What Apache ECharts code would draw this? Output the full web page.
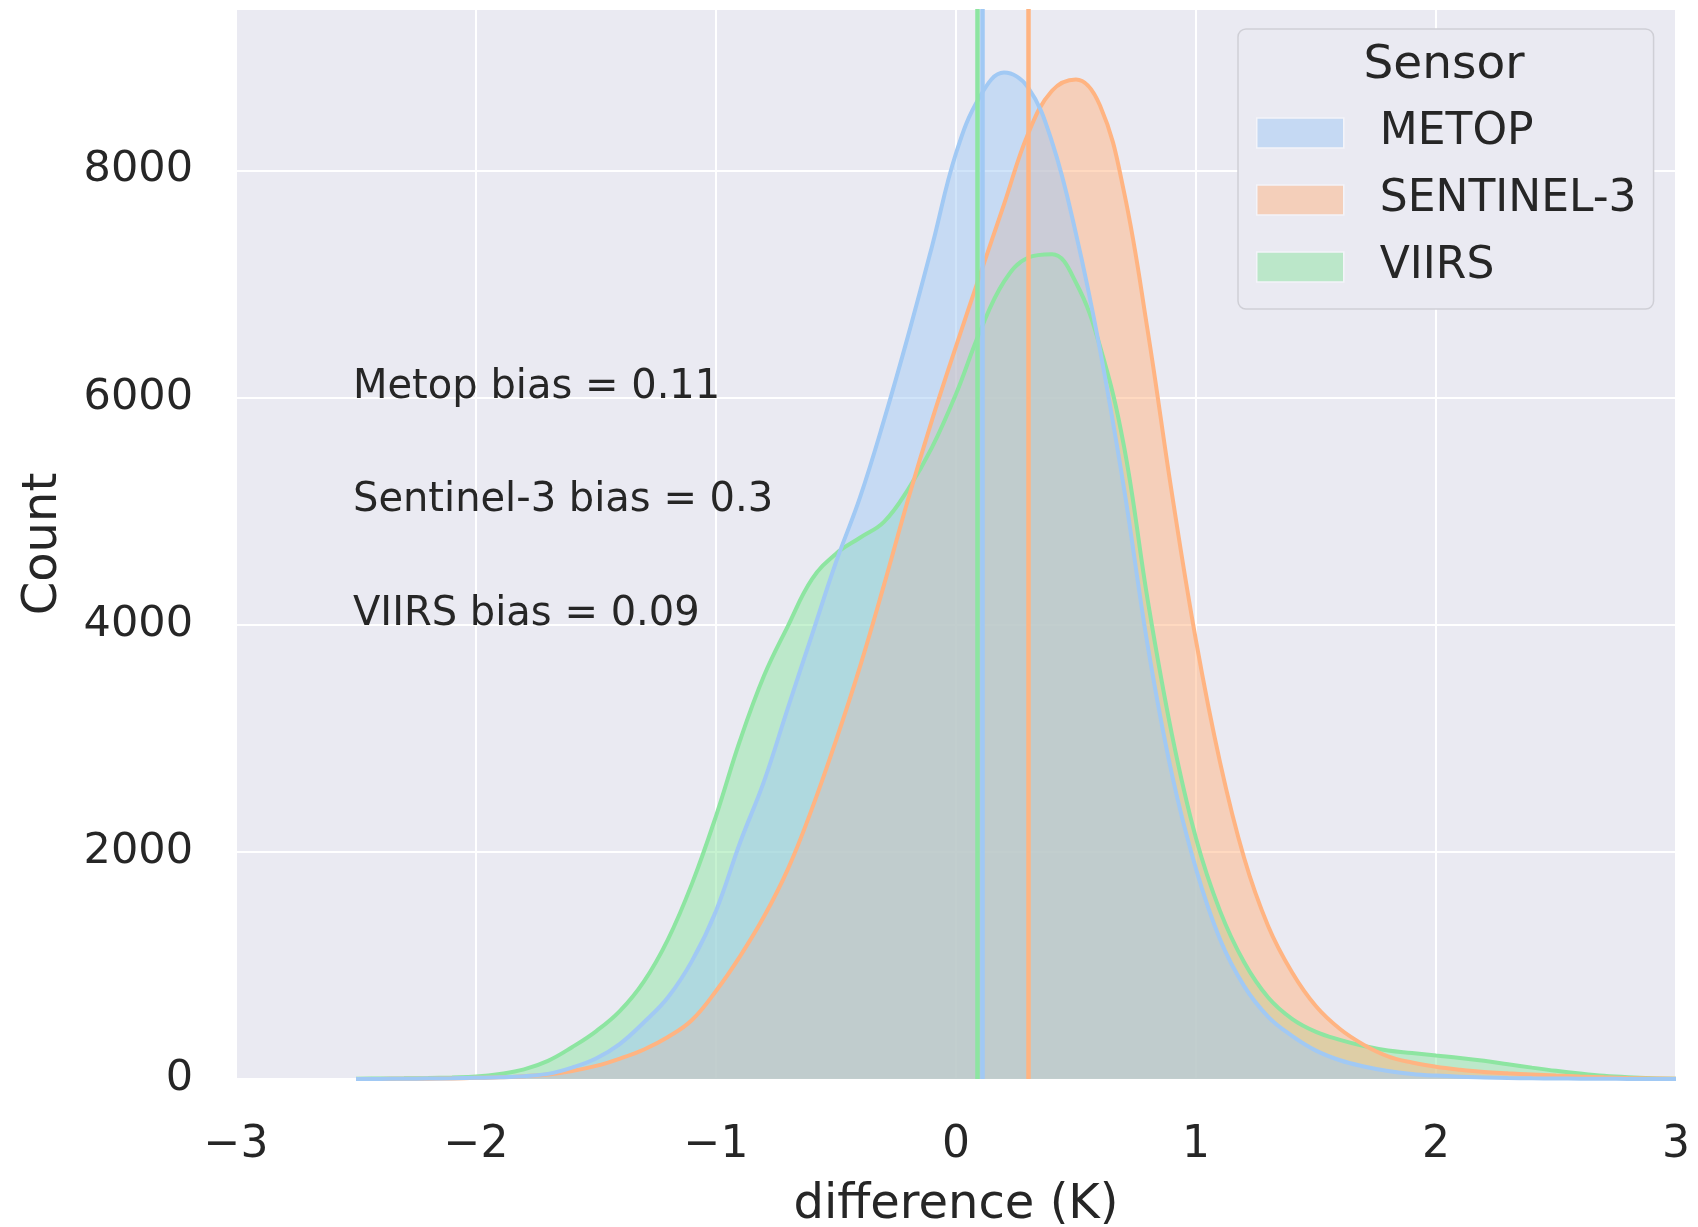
<!DOCTYPE html>
<html>
<head>
<meta charset="utf-8">
<script src="https://cdn.jsdelivr.net/npm/echarts@6/dist/echarts.min.js"></script>
<style>
html,body{margin:0;padding:0;background:#fff;}
#chart{width:1698px;height:1227px;}
</style>
</head>
<body>
<div id="chart"></div>
<script>
// ---- data ----
const xGrid = [-2.5,-2.4,-2.3,-2.2,-2.1,-2.0,-1.9,-1.8,-1.7,-1.6,
               -1.5,-1.4,-1.3,-1.2,-1.1,-1.0,-0.9,-0.8,-0.7,-0.6,
               -0.5,-0.4,-0.3,-0.2,-0.1,0.0,0.1,0.2,0.3,0.4,
               0.5,0.6,0.7,0.8,0.9,1.0,1.1,1.2,1.3,1.4,
               1.5,1.6,1.7,1.8,1.9,2.0,2.1,2.2,2.3,2.4,
               2.5,2.6,2.7,2.8,2.9,3.0];
const metop = [0,1,2,4,6,10,15,25,45,100,
               180,310,500,720,1040,1480,2080,2620,3270,3910,
               4550,5120,5800,6540,7330,8150,8650,8860,8730,8250,
               7440,6420,5200,3800,2680,1850,1230,820,550,380,
               250,165,110,70,45,30,20,14,9,6,
               4,3,2,1,1,0];
const sentinel = [0,1,2,3,5,10,15,25,40,70,
               115,180,260,370,520,775,1080,1430,1850,2380,
               2980,3630,4350,5100,5800,6450,7080,7700,8320,8700,
               8800,8570,7810,6570,5150,3860,2790,1950,1350,940,
               640,440,300,200,145,108,82,62,50,40,
               30,22,15,9,5,2];
const viirs = [2,4,6,9,14,22,45,85,160,280,
               420,600,860,1230,1720,2315,2980,3550,3990,4400,
               4625,4765,4905,5190,5560,6030,6580,7020,7230,7260,
               7010,6450,5570,4200,3030,2120,1480,1030,720,530,
               415,345,290,250,228,206,185,160,130,100,
               72,48,28,15,7,3];
const sensors = ['METOP', 'SENTINEL-3', 'VIIRS'];
const biases = [0.11, 0.3, 0.09];
const biasLabels = ['Metop bias = 0.11', 'Sentinel-3 bias = 0.3', 'VIIRS bias = 0.09'];
const biasLabelY = [6000, 5000, 4000];
const biasLabelX = -2.5;
const xMin = -3, xMax = 3, xStep = 1;
const yMin = 0, yMax = 9420, yStep = 2000;

// ---- styles ----
const FONT = 'DejaVu Sans';
const TXT = '#262626';
const lineColors = ['#a1c9f4', '#ffb482', '#8de5a1'];
const swatchColors = ['#c5d9f3', '#f4cfba', '#bbe7c9'];
const values = [metop, sentinel, viirs];

const pairs = v => xGrid.map((x, i) => [x, v[i]]);
const series = [];
// fills: VIIRS first (bottom), then SENTINEL-3, then METOP (top)
[2, 1, 0].forEach(i => {
  series.push({
    type: 'line', name: sensors[i], data: pairs(values[i]),
    smooth: 0.4, symbol: 'none', showSymbol: false,
    lineStyle: { width: 0, opacity: 0 },
    areaStyle: { color: lineColors[i], opacity: 0.5 },
    z: 2, silent: true
  });
});
[2, 1, 0].forEach(i => {
  series.push({
    type: 'line', name: sensors[i], data: pairs(values[i]),
    smooth: 0.4, symbol: 'none', showSymbol: false,
    lineStyle: { width: 4, color: lineColors[i] },
    itemStyle: { color: lineColors[i] },
    z: 3, silent: true,
    markLine: {
      silent: true, symbol: ['none', 'none'], label: { show: false },
      lineStyle: { color: lineColors[i], width: 4.5, type: 'solid', opacity: 1 },
      emphasis: { disabled: true },
      data: [{ xAxis: biases[i] }]
    }
  });
});
series.push({
  type: 'scatter', name: 'annotations', silent: true,
  data: biasLabelY.map(y => [biasLabelX, y]),
  symbolSize: 0, z: 10,
  itemStyle: { opacity: 1 },
  label: {
    show: true, position: 'right', distance: 0, offset: [-3, -10],
    formatter: p => biasLabels[p.dataIndex],
    fontFamily: FONT, fontSize: 40, color: TXT, opacity: 1
  }
});

const chart = echarts.init(document.getElementById('chart'), null, { renderer: 'canvas' });
chart.setOption({
  animation: false,
  backgroundColor: '#ffffff',
  grid: { left: 236, right: 22, top: 9, bottom: 148, containLabel: false, outerBoundsMode: 'none',
          show: true, backgroundColor: '#eaeaf2', borderWidth: 0 },
  xAxis: {
    type: 'value', min: xMin, max: xMax, interval: xStep,
    name: 'difference (K)', nameLocation: 'middle', nameGap: 103,
    nameTextStyle: { fontFamily: FONT, fontSize: 48, color: TXT },
    axisLine: { show: false }, axisTick: { show: false },
    splitLine: { show: true, lineStyle: { color: '#ffffff', width: 2 } },
    axisLabel: {
      fontFamily: FONT, fontSize: 44, color: TXT, margin: 45,
      formatter: v => (v < 0 ? '\u2212' + Math.abs(v) : String(v))
    }
  },
  yAxis: {
    type: 'value', min: yMin, max: yMax, interval: yStep,
    name: 'Count', nameLocation: 'middle', nameGap: 168,
    nameTextStyle: { fontFamily: FONT, fontSize: 48, color: TXT },
    axisLine: { show: false }, axisTick: { show: false },
    splitLine: { show: true, lineStyle: { color: '#ffffff', width: 2 } },
    axisLabel: { fontFamily: FONT, fontSize: 43, color: TXT, margin: 43, showMaxLabel: false,
      formatter: v => String(v) }
  },
  legend: {
    orient: 'vertical', left: 1238, top: 29,
    padding: [79, 17, 17, 18],
    backgroundColor: '#eaeaf2', borderColor: '#cfcfd6', borderWidth: 1.5, borderRadius: 8,
    itemWidth: 87, itemHeight: 30, itemGap: 17,
    selectedMode: false,
    textStyle: { fontFamily: FONT, fontSize: 44, color: TXT, lineHeight: 50, padding: [0, 0, 0, 31] },
    data: sensors.map((s, i) => ({
      name: s, icon: 'rect',
      itemStyle: { color: swatchColors[i], borderColor: '#f3f4f9', borderWidth: 1.5, opacity: 1 }
    }))
  },
  graphic: [{
    type: 'text', z: 100, x: 1444, y: 66,
    style: { text: 'Sensor', font: '47px "DejaVu Sans"', fill: TXT, textAlign: 'center', textVerticalAlign: 'middle' }
  }],
  series: series
});
</script>
</body>
</html>
